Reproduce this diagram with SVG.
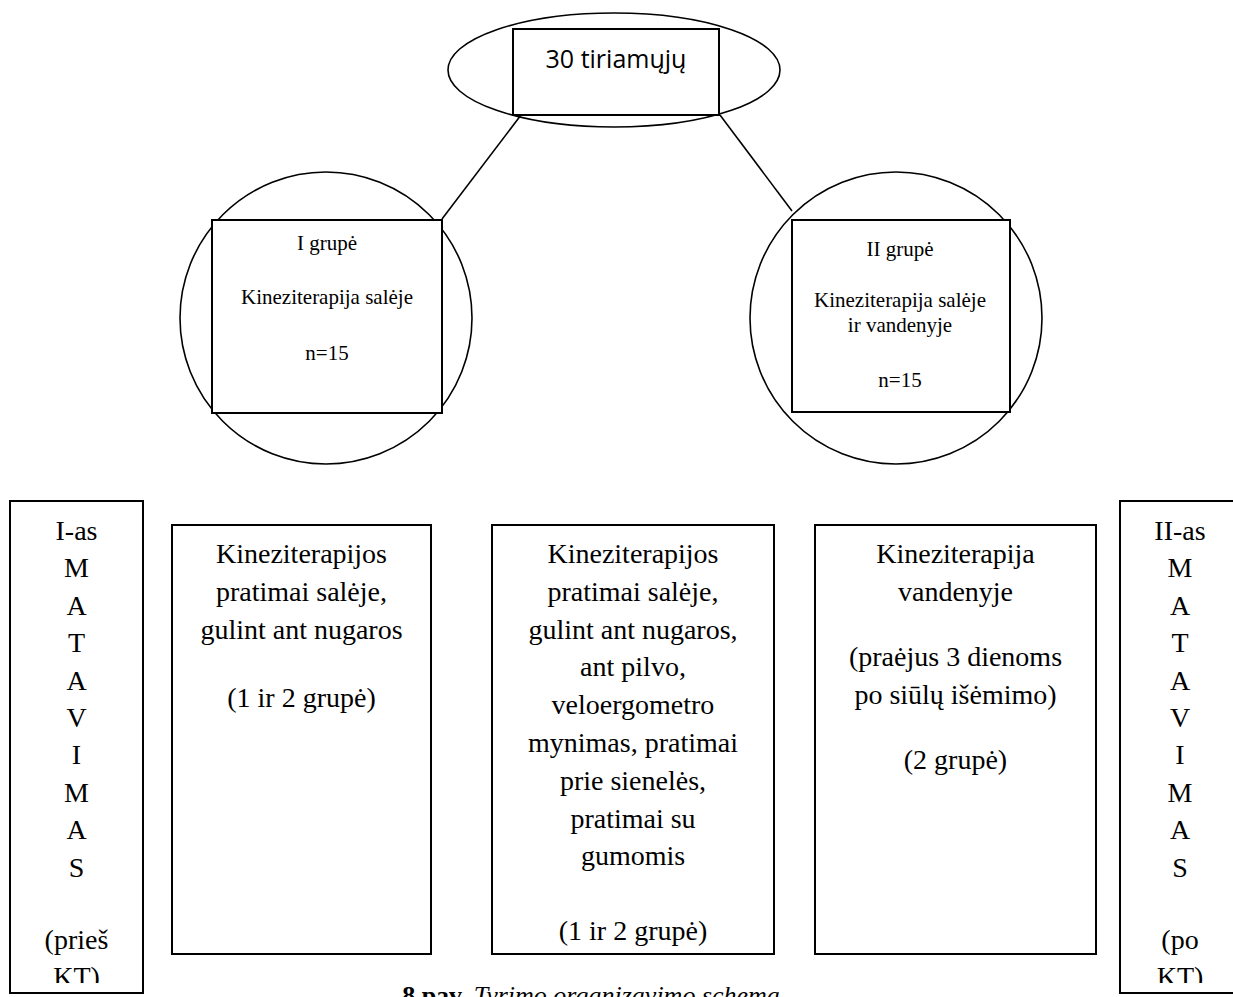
<svg xmlns="http://www.w3.org/2000/svg" width="1233" height="997" viewBox="0 0 1233 997">
  <style>
    .shape { fill: none; stroke: #000; stroke-width: 1.6; }
    .box { fill: #fff; stroke: #000; stroke-width: 2; }
    .conn { stroke: #000; stroke-width: 1.6; fill: none; }
    .t { font-family: "Liberation Serif", "Times New Roman", serif; fill: #000; text-anchor: middle; }
    .s21 { font-size: 21px; }
    .s28 { font-size: 28px; }
    .sans { font-family: "Open Sans", "Liberation Sans", sans-serif; font-size: 25px; fill: #000; text-anchor: middle; }
  </style>
  <defs>
    <clipPath id="clipL"><rect x="0" y="495" width="160" height="488"/></clipPath>
    <clipPath id="clipR"><rect x="1110" y="495" width="130" height="488"/></clipPath>
  </defs>
  <rect x="0" y="0" width="1233" height="997" fill="#fff"/>

  <g id="connectors">
    <line class="conn" x1="521" y1="115" x2="442" y2="219"/>
    <line class="conn" x1="720" y1="115" x2="792" y2="211"/>
  </g>

  <g id="node-top">
    <ellipse class="shape" cx="614" cy="70" rx="166" ry="57"/>
    <rect class="box" x="513" y="29" width="206" height="86"/>
    <text class="sans" x="616" y="68">30 tiriamųjų</text>
  </g>

  <g id="node-group1">
    <circle class="shape" cx="326" cy="318" r="146"/>
    <rect class="box" x="212" y="220" width="230" height="193"/>
    <text class="t s21" x="327" y="250">I grupė</text>
    <text class="t s21" x="327" y="304">Kineziterapija salėje</text>
    <text class="t s21" x="327" y="360">n=15</text>
  </g>

  <g id="node-group2">
    <circle class="shape" cx="896" cy="318" r="146"/>
    <rect class="box" x="792" y="220" width="218" height="192"/>
    <text class="t s21" x="900" y="256">II grupė</text>
    <text class="t s21" x="900" y="307">Kineziterapija salėje</text>
    <text class="t s21" x="900" y="332">ir vandenyje</text>
    <text class="t s21" x="900" y="387">n=15</text>
  </g>

  <g id="node-measure1">
    <rect class="box" x="10" y="501" width="133" height="492"/>
    <g clip-path="url(#clipL)">
      <text class="t s28" x="76.5" y="540">I-as</text>
      <text class="t s28" x="76.5" y="577.4">M</text>
      <text class="t s28" x="76.5" y="614.8">A</text>
      <text class="t s28" x="76.5" y="652.2">T</text>
      <text class="t s28" x="76.5" y="689.6">A</text>
      <text class="t s28" x="76.5" y="727">V</text>
      <text class="t s28" x="76.5" y="764.4">I</text>
      <text class="t s28" x="76.5" y="801.8">M</text>
      <text class="t s28" x="76.5" y="839.2">A</text>
      <text class="t s28" x="76.5" y="876.6">S</text>
      <text class="t s28" x="76.5" y="948.5">(prieš</text>
      <text class="t s28" x="76.5" y="986">KT)</text>
    </g>
  </g>

  <g id="node-box1">
    <rect class="box" x="172" y="525" width="259" height="429"/>
    <text class="t s28" x="301.5" y="563">Kineziterapijos</text>
    <text class="t s28" x="301.5" y="600.8">pratimai salėje,</text>
    <text class="t s28" x="301.5" y="638.6">gulint ant nugaros</text>
    <text class="t s28" x="301.5" y="707">(1 ir 2 grupė)</text>
  </g>

  <g id="node-box2">
    <rect class="box" x="492" y="525" width="282" height="429"/>
    <text class="t s28" x="633" y="563">Kineziterapijos</text>
    <text class="t s28" x="633" y="600.8">pratimai salėje,</text>
    <text class="t s28" x="633" y="638.6">gulint ant nugaros,</text>
    <text class="t s28" x="633" y="676.4">ant pilvo,</text>
    <text class="t s28" x="633" y="714.2">veloergometro</text>
    <text class="t s28" x="633" y="752">mynimas, pratimai</text>
    <text class="t s28" x="633" y="789.8">prie sienelės,</text>
    <text class="t s28" x="633" y="827.6">pratimai su</text>
    <text class="t s28" x="633" y="865.4">gumomis</text>
    <text class="t s28" x="633" y="940">(1 ir 2 grupė)</text>
  </g>

  <g id="node-box3">
    <rect class="box" x="815" y="525" width="281" height="429"/>
    <text class="t s28" x="955.5" y="563">Kineziterapija</text>
    <text class="t s28" x="955.5" y="600.8">vandenyje</text>
    <text class="t s28" x="955.5" y="666">(praėjus 3 dienoms</text>
    <text class="t s28" x="955.5" y="703.8">po siūlų išėmimo)</text>
    <text class="t s28" x="955.5" y="769">(2 grupė)</text>
  </g>

  <g id="node-measure2">
    <rect class="box" x="1120" y="501" width="133" height="492"/>
    <g clip-path="url(#clipR)">
      <text class="t s28" x="1180" y="540">II-as</text>
      <text class="t s28" x="1180" y="577.4">M</text>
      <text class="t s28" x="1180" y="614.8">A</text>
      <text class="t s28" x="1180" y="652.2">T</text>
      <text class="t s28" x="1180" y="689.6">A</text>
      <text class="t s28" x="1180" y="727">V</text>
      <text class="t s28" x="1180" y="764.4">I</text>
      <text class="t s28" x="1180" y="801.8">M</text>
      <text class="t s28" x="1180" y="839.2">A</text>
      <text class="t s28" x="1180" y="876.6">S</text>
      <text class="t s28" x="1180" y="948.5">(po</text>
      <text class="t s28" x="1180" y="986">KT)</text>
    </g>
  </g>

  <g id="caption">
    <text x="591" y="1004" style="font-family: 'Liberation Serif', 'Times New Roman', serif; font-size: 26px; text-anchor: middle; fill: #000;"><tspan font-weight="bold">8 pav.</tspan> <tspan font-style="italic">Tyrimo organizavimo schema</tspan></text>
  </g>
</svg>
